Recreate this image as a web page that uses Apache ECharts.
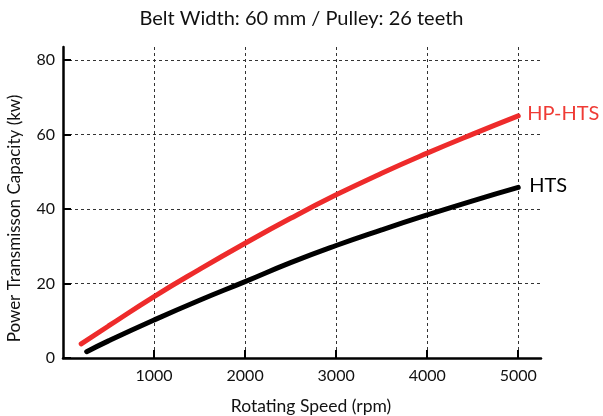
<!DOCTYPE html>
<html>
<head>
<meta charset="utf-8">
<script src="https://cdn.jsdelivr.net/npm/echarts@6/dist/echarts.min.js"></script>
<style>
  html, body { margin: 0; padding: 0; background: #fff; }
  #chart { width: 603px; height: 416px; }
</style>
</head>
<body>
<div id="chart"></div>
<script>
// values
var hpSpeed = [200, 500, 1000, 1500, 2000, 2500, 3000, 3500, 4000, 4500, 5000];
var hpPower = [3.8, 8.6, 16.5, 23.8, 30.8, 37.5, 43.8, 49.6, 55.0, 60.1, 65.0];
var htsSpeed = [260, 500, 1000, 1500, 2000, 2500, 3000, 3500, 4000, 4500, 5000];
var htsPower = [1.7, 4.6, 10.2, 15.5, 20.5, 25.6, 30.2, 34.4, 38.4, 42.2, 45.8];
var xTicks = [1000, 2000, 3000, 4000, 5000];
var yTicks = [0, 20, 40, 60, 80];

function pairs(xs, ys) {
  return xs.map(function (x, i) { return [x, ys[i]]; });
}

var font = 'Lato';
var myChart = echarts.init(document.getElementById('chart'));
var option = {
  animation: false,
  title: {
    text: 'Belt Width: 60 mm / Pulley: 26 teeth',
    left: 'center',
    top: 4,
    textStyle: { fontFamily: font, fontSize: 20, fontWeight: 'normal', color: '#111' }
  },
  grid: { left: 63, right: 62, top: 47, bottom: 58, outerBoundsMode: 'none', containLabel: false },
  xAxis: {
    type: 'value',
    min: 0,
    max: 5250,
    name: 'Rotating Speed (rpm)',
    nameLocation: 'middle',
    nameGap: 39,
    nameTextStyle: { fontFamily: font, fontSize: 17.5, color: '#111', padding: [0, 0, 0, 18] },
    axisLine: { lineStyle: { color: '#000', width: 2.5 } },
    axisTick: { inside: true, length: 8, lineStyle: { width: 2, color: '#000' }, customValues: xTicks },
    axisLabel: { customValues: xTicks, margin: 10, fontFamily: font, fontSize: 16, color: '#111',
      formatter: function (v) { return String(v); } },
    splitLine: { show: true, lineStyle: { type: [3, 3], color: '#333', width: 1 } }
  },
  yAxis: {
    type: 'value',
    min: 0,
    max: 83.5,
    name: 'Power Transmisson Capacity (kw)',
    nameLocation: 'middle',
    nameGap: 40,
    nameTextStyle: { fontFamily: font, fontSize: 17, color: '#111', padding: [0, 32, 0, 0] },
    axisLine: { lineStyle: { color: '#000', width: 2.5 } },
    axisTick: { inside: true, length: 8, lineStyle: { width: 2, color: '#000' }, customValues: yTicks },
    axisLabel: { customValues: yTicks, margin: 8, fontFamily: font, fontSize: 16, color: '#111' },
    splitLine: { show: true, lineStyle: { type: [3, 3], color: '#333', width: 1 } }
  },
  series: [{
    name: 'HP-HTS',
    type: 'line',
    smooth: true,
    symbol: 'none',
    lineStyle: { color: '#ee2b2b', width: 5, cap: 'round' },
    endLabel: { show: true, formatter: '{a}', distance: 9, offset: [0, -2],
      fontFamily: font, fontSize: 20, color: '#ef3b35' },
    data: pairs(hpSpeed, hpPower)
  }, {
    name: 'HTS',
    type: 'line',
    smooth: true,
    symbol: 'none',
    lineStyle: { color: '#000', width: 5, cap: 'round' },
    endLabel: { show: true, formatter: '{a}', distance: 11, offset: [0, -2],
      fontFamily: font, fontSize: 20, color: '#000' },
    data: pairs(htsSpeed, htsPower)
  }]
};
myChart.setOption(option);
</script>
</body>
</html>
